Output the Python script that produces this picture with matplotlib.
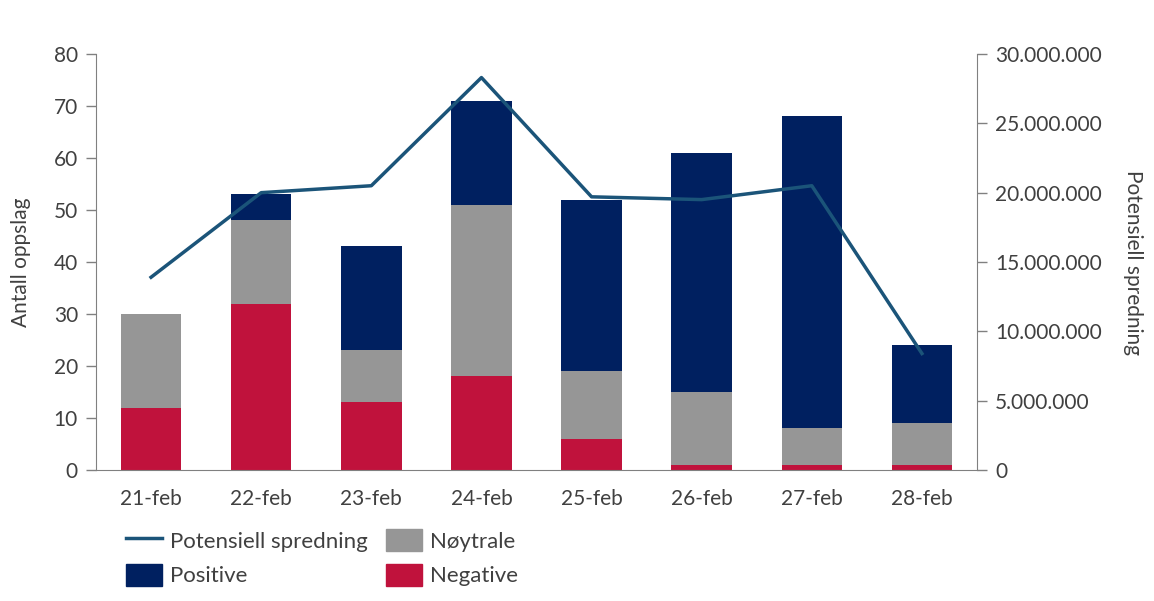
import matplotlib
matplotlib.use("Agg")
import matplotlib.pyplot as plt
from matplotlib.ticker import FuncFormatter, FixedLocator
from matplotlib.lines import Line2D
from matplotlib.patches import Patch

plt.rcParams['font.family'] = ['Lato', 'DejaVu Sans']

dates = ["21-feb", "22-feb", "23-feb", "24-feb", "25-feb", "26-feb", "27-feb", "28-feb"]
negative = [12, 32, 13, 18, 6, 1, 1, 1]
neutral = [18, 16, 10, 33, 13, 14, 7, 8]
positive = [0, 5, 20, 20, 33, 46, 60, 15]
spredning = [13_900_000, 20_000_000, 20_500_000, 28_300_000, 19_700_000, 19_500_000, 20_500_000, 8_400_000]

c_neg = "#C0123C"
c_neu = "#969696"
c_pos = "#002060"
c_line = "#1B5479"
txt = "#404040"
spine_c = "#808080"
fs = 15

fig = plt.figure(figsize=(11.54, 6.01), dpi=100)
ax = fig.add_axes([96/1154, 1-470/601, (977-96)/1154, (470-54)/601])
x = list(range(len(dates)))
w = 0.55
bottom2 = [a + b for a, b in zip(negative, neutral)]
ax.bar(x, negative, width=w, color=c_neg, zorder=2)
ax.bar(x, neutral, width=w, bottom=negative, color=c_neu, zorder=2)
ax.bar(x, positive, width=w, bottom=bottom2, color=c_pos, zorder=2)
ax.set_xlim(-0.5, len(dates) - 0.5)
ax.set_ylim(0, 80)
ax.set_yticks(range(0, 81, 10))
ax.set_xticks(x)
ax.set_xticklabels(dates)
ax.tick_params(axis='x', length=0, pad=14, labelsize=fs, colors=txt)
ax.tick_params(axis='y', length=7, width=1, color=spine_c, labelsize=fs, labelcolor=txt, pad=6)
for s in ['top', 'right']:
    ax.spines[s].set_visible(False)
for s in ['left', 'bottom']:
    ax.spines[s].set_color(spine_c)
ax.set_ylabel("Antall oppslag", fontsize=fs, color=txt, labelpad=16)

ax2 = ax.twinx()
ax2.plot(x, spredning, color=c_line, linewidth=2.5, zorder=3)
ax2.set_ylim(0, 30_000_000)
ax2.yaxis.set_major_locator(FixedLocator(range(0, 30_000_001, 5_000_000)))
ax2.yaxis.set_major_formatter(FuncFormatter(lambda v, p: f"{int(v):,}".replace(",", ".")))
ax2.tick_params(axis='y', length=7, width=1, color=spine_c, labelsize=fs, labelcolor=txt, pad=6)
for s in ['top', 'left', 'bottom']:
    ax2.spines[s].set_visible(False)
ax2.spines['right'].set_color(spine_c)
ax2.set_ylabel("Potensiell spredning", fontsize=fs, color=txt, rotation=270, labelpad=30)

handles = [Line2D([0], [0], color=c_line, lw=2.5),
           Patch(color=c_pos),
           Patch(color=c_neu),
           Patch(color=c_neg)]
labels = ["Potensiell spredning", "Positive", "Nøytrale", "Negative"]
leg = fig.legend(handles, labels, ncol=2, loc='upper left', bbox_to_anchor=(106/1154, 1-509/601),
                 frameon=False, fontsize=16, handlelength=1.6, handleheight=1.15,
                 columnspacing=0.8, labelspacing=0.55, handletextpad=0.4)
for t in leg.get_texts():
    t.set_color(txt)

fig.savefig("out.png", dpi=100)
